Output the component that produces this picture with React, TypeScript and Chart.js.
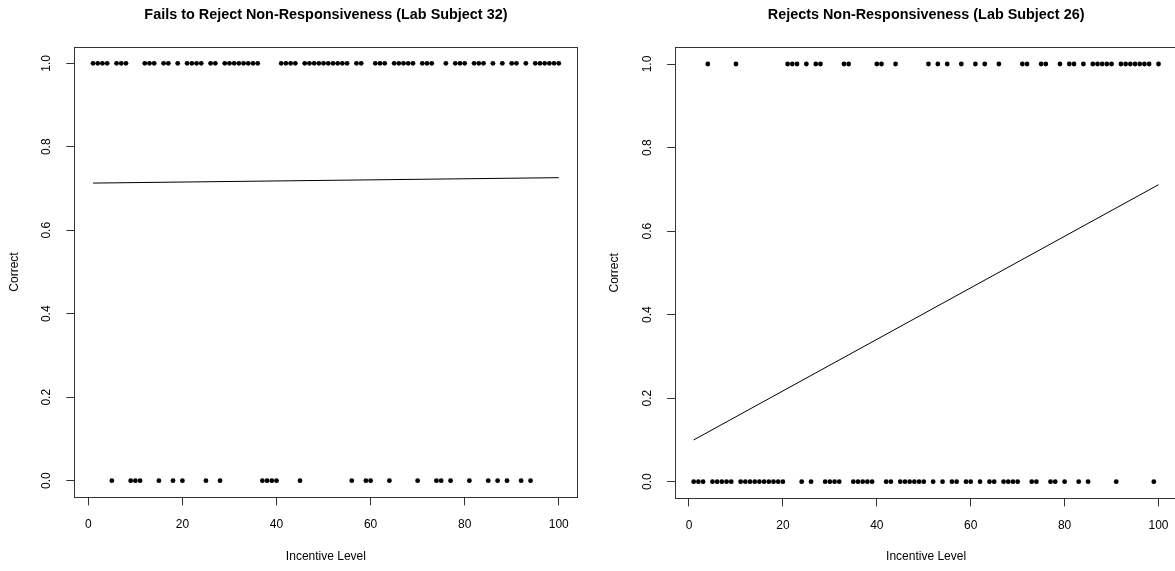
import React, { useEffect, useRef } from "react";
import { Chart, registerables } from "chart.js";

Chart.register(...registerables);

// ---------- data ----------
const xTicks = [0, 20, 40, 60, 80, 100];
const yTicks = [0, 0.2, 0.4, 0.6, 0.8, 1.0];

const leftTitle = "Fails to Reject Non-Responsiveness (Lab Subject 32)";
const rightTitle = "Rejects Non-Responsiveness (Lab Subject 26)";
const xAxisLabel = "Incentive Level";
const yAxisLabel = "Correct";

// Lab Subject 32: incentive levels answered correctly (1) / incorrectly (0)
const subject32Correct = [
  1, 2, 3, 4, 6, 7, 8, 12, 13, 14, 16, 17, 19, 21, 22, 23, 24, 26, 27, 29, 30,
  31, 32, 33, 34, 35, 36, 41, 42, 43, 44, 46, 47, 48, 49, 50, 51, 52, 53, 54,
  55, 57, 58, 61, 62, 63, 65, 66, 67, 68, 69, 71, 72, 73, 76, 78, 79, 80, 82,
  83, 84, 86, 88, 90, 91, 93, 95, 96, 97, 98, 99, 100,
];
const subject32Incorrect = [
  5, 9, 10, 11, 15, 18, 20, 25, 28, 37, 38, 39, 40, 45, 56, 59, 60, 64, 70, 74,
  75, 77, 81, 85, 87, 89, 92, 94,
];

// Lab Subject 26
const subject26Correct = [
  4, 10, 21, 22, 23, 25, 27, 28, 33, 34, 40, 41, 44, 51, 53, 55, 58, 61, 63, 66,
  71, 72, 75, 76, 79, 81, 82, 84, 86, 87, 88, 89, 90, 92, 93, 94, 95, 96, 97,
  98, 100,
];
const subject26Incorrect = [
  1, 2, 3, 5, 6, 7, 8, 9, 11, 12, 13, 14, 15, 16, 17, 18, 19, 20, 24, 26, 29,
  30, 31, 32, 35, 36, 37, 38, 39, 42, 43, 45, 46, 47, 48, 49, 50, 52, 54, 56,
  57, 59, 60, 62, 64, 65, 67, 68, 69, 70, 73, 74, 77, 78, 80, 83, 85, 91, 99,
];

// fitted lines (endpoints at incentive 1 and 100)
const fitX = [1, 100];
const subject32Fit = [0.713, 0.726];
const subject26Fit = [0.1, 0.711];

// ---------- styling ----------
const FONT = '"Liberation Sans", Arial, Helvetica, sans-serif';
const X_MIN = -2.96;
const X_MAX = 103.96;
const Y_MIN = -0.04;
const Y_MAX = 1.04;

type Geom = {
  canvasLeft: number;
  width: number;
  height: number;
  padRight: number;
  padTop: number;
  yWidth: number;
  xHeight: number;
  titleY: number;
};

const framePlugin = {
  id: "rframe",
  afterDraw(chart: any, _args: any, opts: any) {
    const { ctx, chartArea: a } = chart;
    ctx.save();
    ctx.strokeStyle = "#333";
    ctx.lineWidth = 1;
    const l = Math.round(a.left) + 0.5;
    const t = Math.round(a.top) + 0.5;
    const r = Math.round(a.right) + 0.5;
    const b = Math.round(a.bottom) + 0.5;
    ctx.strokeRect(l, t, r - l, b - t);
    ctx.font = `bold 14.4px ${FONT}`;
    ctx.fillStyle = "#000";
    ctx.textAlign = "center";
    ctx.textBaseline = "alphabetic";
    ctx.fillText(opts.text, (a.left + a.right) / 2, opts.y);
    ctx.restore();
  },
};

function Panel(props: {
  title: string;
  correct: number[];
  incorrect: number[];
  fit: number[];
  geom: Geom;
}) {
  const ref = useRef<HTMLCanvasElement | null>(null);
  const { title, correct, incorrect, fit, geom } = props;

  useEffect(() => {
    if (!ref.current) return;
    const pts = [
      ...correct.map((x) => ({ x, y: 1 })),
      ...incorrect.map((x) => ({ x, y: 0 })),
    ];
    const line = fitX.map((x, i) => ({ x, y: fit[i] }));
    const tickFont = { family: FONT, size: 12 };
    const chart = new Chart(ref.current, {
      type: "scatter",
      data: {
        datasets: [
          {
            data: pts,
            pointRadius: 2.4,
            pointBorderWidth: 0,
            pointBackgroundColor: "#000",
            pointBorderColor: "#000",
            showLine: false,
          },
          {
            data: line,
            showLine: true,
            pointRadius: 0,
            borderColor: "#000",
            borderWidth: 1,
            fill: false,
          },
        ],
      } as any,
      options: {
        animation: false,
        responsive: false,
        devicePixelRatio: 1,
        events: [],
        layout: {
          padding: { left: 0, right: geom.padRight, top: geom.padTop, bottom: 0 },
        },
        plugins: {
          legend: { display: false },
          tooltip: { enabled: false },
          rframe: { text: title, y: geom.titleY },
        } as any,
        scales: {
          x: {
            type: "linear",
            min: X_MIN,
            max: X_MAX,
            afterBuildTicks: (s: any) => {
              s.ticks = xTicks.map((v) => ({ value: v }));
            },
            afterFit: (s: any) => {
              s.height = geom.xHeight;
            },
            grid: {
              drawOnChartArea: false,
              drawTicks: true,
              tickLength: 8,
              color: "#333",
              lineWidth: 1,
            },
            border: { display: false },
            ticks: {
              padding: 12,
              color: "#000",
              font: tickFont,
              minRotation: 0,
              maxRotation: 0,
              autoSkip: false,
              callback: (v: any) => String(v),
            },
            title: {
              display: true,
              text: xAxisLabel,
              color: "#000",
              font: tickFont,
              padding: { top: 0, bottom: 6.8 },
            },
          },
          y: {
            type: "linear",
            min: Y_MIN,
            max: Y_MAX,
            afterBuildTicks: (s: any) => {
              s.ticks = yTicks.map((v) => ({ value: v }));
            },
            afterFit: (s: any) => {
              s.width = geom.yWidth;
            },
            grid: {
              drawOnChartArea: false,
              drawTicks: true,
              tickLength: 8,
              color: "#333",
              lineWidth: 1,
            },
            border: { display: false },
            ticks: {
              padding: 11,
              color: "#000",
              font: tickFont,
              minRotation: 90,
              maxRotation: 90,
              crossAlign: "center",
              autoSkip: false,
              callback: (v: any) => Number(v).toFixed(1),
            },
            title: {
              display: true,
              text: yAxisLabel,
              color: "#000",
              font: tickFont,
              padding: { top: 7.8, bottom: 0 },
            },
          },
        },
      } as any,
      plugins: [framePlugin as any],
    });
    return () => chart.destroy();
  }, [title, correct, incorrect, fit, geom]);

  return (
    <canvas
      ref={ref}
      width={geom.width}
      height={geom.height}
      style={{
        position: "absolute",
        left: geom.canvasLeft,
        top: 0,
        width: geom.width,
        height: geom.height,
      }}
    />
  );
}

const leftGeom: Geom = {
  canvasLeft: 0,
  width: 600,
  height: 571,
  padRight: 22.6,
  padTop: 46.6,
  yWidth: 74.4,
  xHeight: 73.6,
  titleY: 18.5,
};

const rightGeom: Geom = {
  canvasLeft: 600,
  width: 600,
  height: 571,
  padRight: 22.9,
  padTop: 47.3,
  yWidth: 75.1,
  xHeight: 72.6,
  titleY: 18.5,
};

export default function App() {
  return (
    <div
      style={{
        position: "absolute",
        left: 0,
        top: 0,
        width: 1175,
        height: 571,
        overflow: "hidden",
        background: "#fff",
      }}
    >
      <Panel
        title={leftTitle}
        correct={subject32Correct}
        incorrect={subject32Incorrect}
        fit={subject32Fit}
        geom={leftGeom}
      />
      <Panel
        title={rightTitle}
        correct={subject26Correct}
        incorrect={subject26Incorrect}
        fit={subject26Fit}
        geom={rightGeom}
      />
    </div>
  );
}
